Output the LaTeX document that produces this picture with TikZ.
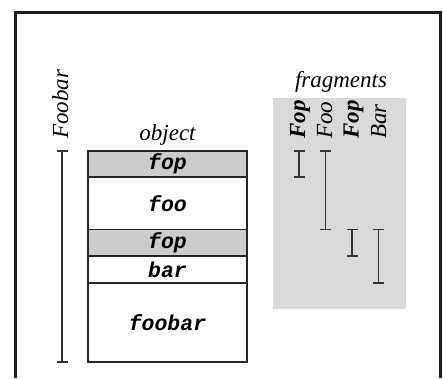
\documentclass[tikz,border=0pt]{standalone}
\usepackage{fontspec}
\setmainfont{Liberation Serif}
\newfontfamily\codefont{Liberation Mono}[UprightFont=* Bold Italic]
\usetikzlibrary{arrows.meta}
\definecolor{rowgray}{RGB}{204,204,204}
\definecolor{fraggray}{RGB}{217,217,217}
\definecolor{framecol}{RGB}{30,30,30}
\begin{document}
\begin{tikzpicture}[x=1pt,y=-1pt,
  lbl/.style={font=\fontsize{23}{27}\selectfont\itshape, inner sep=0pt},
  vlbl/.style={lbl, rotate=90, anchor=base west},
  boldlbl/.style={font=\fontsize{23}{27}\selectfont\bfseries\itshape},
  row/.style={draw=black!85, line width=1.2pt, minimum width=159pt, inner sep=0pt,
    font=\fontsize{21.5}{25}\selectfont\codefont},
  shaded/.style={row, fill=rowgray},
  span/.style={draw=black!80, line width=1.3pt, {Bar[width=11pt,line width=1.3pt]}-{Bar[width=11pt,line width=1.3pt]}}
]
\useasboundingbox (0,0) rectangle (443,378);

% outer frame, open at the bottom
\draw[framecol, line width=3pt] (15.5,378) -- (15.5,12.5) -- (440.5,12.5) -- (440.5,378);

% fragments panel
\fill[fraggray] (273,98) rectangle (406,309);
\node[lbl, anchor=base] (fraglbl) at (341,87) {fragments};

% object layout
\node[lbl, anchor=base] (objlbl) at (167.5,140) {object};
\node[shaded, minimum height=26pt]   (r1) at (167.5,164)    {fop};
\node[row,    minimum height=52.5pt] (r2) at (167.5,203.25) {foo};
\node[shaded, minimum height=26.5pt] (r3) at (167.5,242.75) {fop};
\node[row,    minimum height=27pt]   (r4) at (167.5,269.5)  {bar};
\node[row,    minimum height=79pt]   (r5) at (167.5,322.5)  {foobar};

% whole extent
\node[vlbl] (foobarlbl) at (68,139) {Foobar};
\coordinate (ftop) at (62,151);
\coordinate (fbot) at (62,362);
\draw[span] (ftop |- r1.north) -- (fbot |- r5.south);

% fragment labels
\node[vlbl, boldlbl] (l1) at (305,139) {Fop};
\node[vlbl] (l2) at (332,139) {Foo};
\node[vlbl, boldlbl] (l3) at (358.5,139) {Fop};
\node[vlbl] (l4) at (386,139) {Bar};

% fragment extents
\coordinate (c1) at (299,0);
\coordinate (c2) at (325.5,0);
\coordinate (c3) at (352,0);
\coordinate (c4) at (378.5,0);
\draw[span] (c1 |- r1.north) -- (c1 |- r1.south);
\draw[span] (c2 |- r1.north) -- (c2 |- r2.south);
\draw[span] (c3 |- r3.north) -- (c3 |- r3.south);
\draw[span] (c4 |- r3.north) -- (c4 |- r4.south);
\end{tikzpicture}
\end{document}
